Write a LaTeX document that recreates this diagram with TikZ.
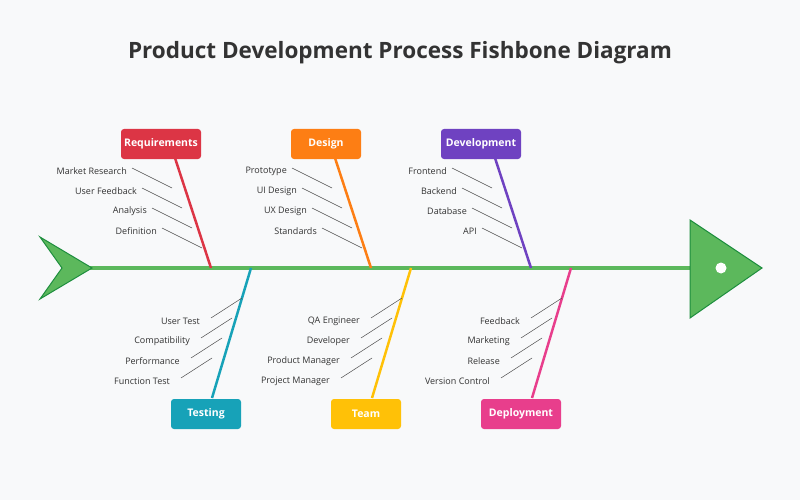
\documentclass[tikz,border=0pt]{standalone}
\usepackage{fontspec}
\setmainfont{Open Sans}
\definecolor{bg}{HTML}{F8F9FA}
\definecolor{spine}{HTML}{5CB85C}
\definecolor{dkg}{HTML}{1E8E3E}
\definecolor{cRed}{HTML}{DC3545}
\definecolor{cOra}{HTML}{FD7E14}
\definecolor{cPur}{HTML}{6F42C1}
\definecolor{cTeal}{HTML}{17A2B8}
\definecolor{cYel}{HTML}{FFC107}
\definecolor{cPink}{HTML}{E83E8C}
\definecolor{txt}{HTML}{333333}
\begin{document}
\begin{tikzpicture}[x=1pt,y=-1pt,
 cat/.style={rounded corners=3pt,minimum height=30pt,text=white,font=\bfseries\fontsize{10.5}{12}\selectfont,inner sep=0pt},
 sub/.style={anchor=east,font=\fontsize{9}{11}\selectfont,text=txt,inner sep=0pt},
 subl/.style={draw=black!70,line width=0.5pt},
 bone/.style={line width=2.5pt}]
\fill[bg] (0,0) rectangle (800,500);
\useasboundingbox (0,0) rectangle (800,500);
\node[font=\bfseries\fontsize{22.5}{26}\selectfont,text=txt] (title) at (400,53) {Product Development Process Fishbone Diagram};
% spine
\coordinate (sa) at (90,268); \coordinate (sb) at (692,268);
\draw[spine,line width=3.5pt] (sa) -- (sb);
\fill[spine,draw=dkg,line width=1pt] (40,237) -- (92,268) -- (40,299) -- (62,268) -- cycle;
\fill[spine,draw=dkg,line width=1pt] (690,220) -- (762,268) -- (690,318) -- cycle;
\fill[white] (721,268) circle (5.5);
% top categories
\foreach \dx/\col/\w/\cx/\name/\a/\b/\c/\d/\id in {
 0/cRed/80/161/Requirements/Market Research/User Feedback/Analysis/Definition/r,
 160/cOra/70/326/Design/Prototype/UI Design/UX Design/Standards/s,
 320/cPur/80/481/Development/Frontend/Backend/Database/API/v}{
 \node[cat,fill=\col,minimum width=\w pt] (box\id) at (\cx,144) {\name};
 \coordinate (bt\id) at (175+\dx,158);
 \coordinate (bb\id) at (211+\dx,268);
 \draw[bone,\col] (bt\id) -- (bb\id);
 \foreach \t [count=\i from 0] in {\a,\b,\c,\d}{
  \node[sub] (l\id\i) at (127+\dx+10*\i,171.5+20*\i) {\t};
  \coordinate (e\id\i) at (172+\dx+10*\i,188+20*\i);
  \draw[subl] (132+\dx+10*\i,168+20*\i) -- (e\id\i);
 }
}
% bottom categories
\foreach \dx/\col/\w/\cx/\name/\a/\b/\c/\d/\id in {
 0/cTeal/70/206/Testing/User Test/Compatibility/Performance/Function Test/t,
 160/cYel/70/366/Team/QA Engineer/Developer/Product Manager/Project Manager/m,
 320/cPink/80/521/Deployment/Feedback/Marketing/Release/Version Control/d}{
 \node[cat,fill=\col,minimum width=\w pt] (box\id) at (\cx,414) {\name};
 \coordinate (bt\id) at (251+\dx,268);
 \coordinate (bb\id) at (212+\dx,398);
 \draw[bone,\col] (bt\id) -- (bb\id);
 \foreach \t [count=\i from 0] in {\a,\b,\c,\d}{
  \node[sub] (l\id\i) at (200+\dx-10*\i,321.5+20*\i) {\t};
  \coordinate (e\id\i) at (242+\dx-10*\i,298+20*\i);
  \draw[subl] (211+\dx-10*\i,318+20*\i) -- (e\id\i);
 }
}
\end{tikzpicture}
\end{document}
